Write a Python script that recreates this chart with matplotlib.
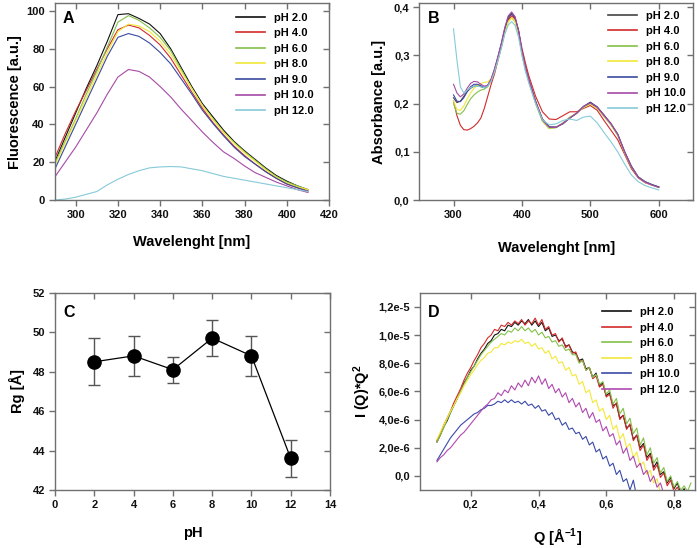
import numpy as np
import matplotlib
matplotlib.use("Agg")
import matplotlib.pyplot as plt
from matplotlib.ticker import FuncFormatter

# --- DATA ---
# Panel A: fluorescence emission
wl_a = [290, 295, 300, 305, 310, 315, 320, 325, 330, 335, 340, 345, 350,
        355, 360, 365, 370, 375, 380, 385, 390, 395, 400, 405, 410]
fl_ph2 = [20, 33, 46, 59, 71, 84, 98, 98.5, 96, 93, 88, 80, 70, 60, 51, 44, 37, 31, 26, 21.5, 17, 13, 10, 7.5, 5.5]
fl_ph4 = [22, 35, 47, 58, 69, 80, 90, 92.5, 91, 87, 82, 75, 66, 57, 48.5, 41, 34.5, 28.5, 23.5, 19, 15, 11.5, 8.5, 6.5, 5]
fl_ph6 = [19, 31, 43, 56, 68, 81, 94, 97.5, 95, 91, 86, 79, 69, 59, 50, 43, 36, 30.5, 25.5, 21, 16.5, 12.5, 9.5, 7.5, 5.5]
fl_ph8 = [18, 30, 42, 54, 66, 78, 89, 93, 92, 89, 84, 77, 68, 59, 50, 42.5, 36, 30, 25, 20.5, 16, 12, 9, 7, 5.5]
fl_ph9 = [16, 28, 40, 52, 64, 76, 86, 88, 86.5, 83, 78, 72, 64, 56, 47.5, 40.5, 34, 28, 23, 19, 15, 11.5, 8.5, 6.5, 4.5]
fl_ph10 = [12, 20, 28, 37, 46, 56, 65, 69, 68, 65, 60, 54.5, 48, 42, 36, 30.5, 25.5, 22, 18, 14.5, 12, 9.5, 7.5, 5.5, 4]
fl_ph12 = [0, 0.5, 1.5, 3, 4.5, 8, 11, 13.5, 15.5, 17, 17.5, 17.7, 17.5, 16.5, 15.5, 14, 12.5, 11.5, 10.5, 9.5, 8.5, 7.5, 6.5, 5.5, 4.5]

# Panel B: absorbance
wl_b = [300, 305, 310, 315, 320, 325, 330, 335, 340, 345, 350, 355, 360, 365,
        370, 375, 380, 385, 390, 395, 400, 405, 410, 420, 430, 440, 450, 460,
        470, 480, 490, 500, 510, 520, 530, 540, 550, 560, 570, 580, 590, 600]
ab_ph2 = [0.212, 0.202, 0.205, 0.215, 0.225, 0.232, 0.236, 0.237, 0.235, 0.233, 0.238, 0.250, 0.270, 0.295,
          0.322, 0.352, 0.376, 0.386, 0.377, 0.350, 0.308, 0.275, 0.250, 0.205, 0.168, 0.152, 0.151, 0.158,
          0.170, 0.180, 0.194, 0.203, 0.193, 0.176, 0.158, 0.136, 0.100, 0.070, 0.048, 0.038, 0.032, 0.027]
ab_ph4 = [0.205, 0.175, 0.155, 0.146, 0.145, 0.148, 0.153, 0.160, 0.170, 0.190, 0.215, 0.240, 0.262, 0.290,
          0.318, 0.350, 0.373, 0.382, 0.375, 0.352, 0.315, 0.285, 0.258, 0.215, 0.183, 0.168, 0.167, 0.175,
          0.183, 0.183, 0.190, 0.196, 0.186, 0.165, 0.145, 0.125, 0.095, 0.065, 0.046, 0.036, 0.031, 0.027]
ab_ph6 = [0.200, 0.180, 0.178, 0.185, 0.198, 0.210, 0.218, 0.224, 0.228, 0.230, 0.235, 0.248, 0.268, 0.292,
          0.318, 0.348, 0.370, 0.378, 0.370, 0.345, 0.303, 0.270, 0.245, 0.200, 0.163, 0.148, 0.150, 0.160,
          0.172, 0.180, 0.192, 0.199, 0.190, 0.173, 0.156, 0.134, 0.098, 0.068, 0.047, 0.037, 0.031, 0.026]
ab_ph8 = [0.205, 0.188, 0.186, 0.195, 0.210, 0.222, 0.232, 0.238, 0.242, 0.244, 0.245, 0.252, 0.270, 0.293,
          0.319, 0.348, 0.370, 0.378, 0.370, 0.345, 0.303, 0.271, 0.246, 0.201, 0.164, 0.149, 0.151, 0.160,
          0.171, 0.180, 0.192, 0.199, 0.190, 0.174, 0.157, 0.135, 0.099, 0.069, 0.048, 0.037, 0.031, 0.026]
ab_ph9 = [0.218, 0.205, 0.204, 0.212, 0.225, 0.235, 0.240, 0.240, 0.237, 0.233, 0.237, 0.250, 0.271, 0.297,
          0.325, 0.356, 0.380, 0.388, 0.379, 0.351, 0.308, 0.275, 0.249, 0.204, 0.166, 0.151, 0.151, 0.159,
          0.170, 0.180, 0.194, 0.202, 0.193, 0.176, 0.159, 0.137, 0.101, 0.070, 0.048, 0.038, 0.032, 0.027]
ab_ph10 = [0.240, 0.222, 0.214, 0.220, 0.232, 0.242, 0.246, 0.245, 0.240, 0.236, 0.238, 0.251, 0.272, 0.298,
           0.326, 0.358, 0.382, 0.390, 0.380, 0.352, 0.309, 0.276, 0.250, 0.204, 0.166, 0.151, 0.151, 0.159,
           0.170, 0.180, 0.194, 0.201, 0.192, 0.175, 0.158, 0.136, 0.100, 0.069, 0.047, 0.037, 0.031, 0.026]
ab_ph12 = [0.355, 0.290, 0.235, 0.222, 0.228, 0.233, 0.236, 0.236, 0.235, 0.233, 0.236, 0.247, 0.266, 0.290,
           0.315, 0.344, 0.363, 0.370, 0.362, 0.338, 0.300, 0.268, 0.243, 0.200, 0.166, 0.156, 0.158, 0.165,
           0.168, 0.165, 0.172, 0.174, 0.160, 0.140, 0.121, 0.100, 0.075, 0.052, 0.038, 0.030, 0.025, 0.021]

# Panel C: radius of gyration vs pH
ph_c = [2, 4, 6, 8, 10, 12]
rg_c = [48.5, 48.8, 48.1, 49.7, 48.8, 43.6]
rg_err = [1.2, 1.0, 0.65, 0.9, 1.0, 0.96]

# Panel D: Kratky plot, values in units of 1e-6
q_d = [0.10, 0.11, 0.12, 0.13, 0.14, 0.15, 0.16, 0.17, 0.18, 0.19,
       0.20, 0.21, 0.22, 0.23, 0.24, 0.25, 0.26, 0.27, 0.28, 0.29,
       0.30, 0.31, 0.32, 0.33, 0.34, 0.35, 0.36, 0.37, 0.38, 0.39,
       0.40, 0.41, 0.42, 0.43, 0.44, 0.45, 0.46, 0.47, 0.48, 0.49,
       0.50, 0.51, 0.52, 0.53, 0.54, 0.55, 0.56, 0.57, 0.58, 0.59,
       0.60, 0.61, 0.62, 0.63, 0.64, 0.65, 0.66, 0.67, 0.68, 0.69,
       0.70, 0.71, 0.72, 0.73, 0.74, 0.75, 0.76, 0.77, 0.78, 0.79,
       0.80, 0.81, 0.82, 0.83, 0.84, 0.85]
kr_ph2 = [2.4, 2.9, 3.5, 3.9, 4.5, 5.0, 5.5, 6.0, 6.6, 7.0,
          7.5, 7.8, 8.3, 8.7, 9.0, 9.4, 9.6, 10.0, 10.1, 10.4,
          10.3, 10.7, 10.6, 10.9, 10.7, 11.0, 10.8, 11.1, 10.7, 11.0,
          10.6, 10.9, 10.3, 10.5, 9.9, 10.0, 9.6, 9.7, 9.2, 9.3,
          8.8, 8.7, 8.2, 8.3, 7.6, 7.7, 7.0, 7.3, 6.4, 6.6,
          5.7, 5.9, 5.0, 5.1, 4.1, 4.3, 3.4, 3.6, 2.6, 2.9,
          2.0, 2.3, 1.3, 1.6, 0.6, 1.0, 0.1, 0.3, -0.5, -0.1,
          -0.9, -0.5, -1.2, -0.9, -1.5, -1.6]
kr_ph4 = [2.5, 3.0, 3.6, 4.1, 4.6, 5.2, 5.7, 6.2, 6.8, 7.3,
          7.7, 8.2, 8.6, 9.1, 9.4, 9.8, 10.0, 10.4, 10.3, 10.7,
          10.6, 10.9, 10.7, 11.0, 10.8, 11.1, 10.7, 11.0, 10.8, 11.2,
          10.7, 11.1, 10.4, 10.6, 10.0, 10.1, 9.5, 9.8, 9.1, 9.3,
          8.7, 8.8, 8.1, 8.2, 7.5, 7.7, 6.9, 7.1, 6.3, 6.5,
          5.6, 5.8, 4.8, 5.2, 4.0, 4.3, 3.3, 3.7, 2.5, 2.9,
          1.8, 2.2, 1.1, 1.5, 0.4, 0.8, -0.1, 0.2, -0.7, -0.3,
          -1.1, -0.8, -1.3, -1.5, -1.6, -1.7]
kr_ph6 = [2.4, 2.9, 3.4, 4.0, 4.5, 5.0, 5.5, 6.0, 6.5, 7.0,
          7.4, 7.8, 8.2, 8.6, 8.9, 9.2, 9.5, 9.7, 9.9, 10.1,
          10.0, 10.3, 10.2, 10.5, 10.3, 10.6, 10.3, 10.5, 10.2, 10.4,
          10.0, 10.2, 9.8, 9.9, 9.5, 9.6, 9.2, 9.3, 8.9, 9.0,
          8.6, 8.6, 8.0, 8.2, 7.5, 7.7, 7.0, 7.2, 6.5, 6.7,
          5.8, 6.1, 5.1, 5.5, 4.4, 4.8, 3.7, 4.1, 3.0, 3.4,
          2.2, 2.7, 1.5, 2.0, 0.9, 1.3, 0.2, 0.6, -0.4, 0.0,
          -0.8, -0.4, -1.0, -0.7, -1.1, -0.5]
kr_ph8 = [2.6, 3.1, 3.6, 4.1, 4.6, 5.0, 5.5, 5.9, 6.4, 6.8,
          7.2, 7.5, 7.9, 8.2, 8.4, 8.7, 8.8, 9.1, 9.1, 9.4,
          9.3, 9.5, 9.4, 9.6, 9.5, 9.7, 9.4, 9.5, 9.2, 9.4,
          9.0, 9.1, 8.7, 8.9, 8.3, 8.5, 8.0, 8.1, 7.5, 7.7,
          7.1, 7.2, 6.5, 6.7, 5.9, 6.1, 5.2, 5.4, 4.6, 4.8,
          4.0, 4.3, 3.3, 3.6, 2.6, 3.0, 2.0, 2.3, 1.3, 1.7,
          0.7, 1.0, 0.1, 0.4, -0.5, -0.2, -1.2, -1.5, -1.6, -1.7,
          -1.8, -1.8, -1.9, -1.9, -2.0, -2.0]
kr_ph10 = [1.1, 1.5, 1.9, 2.3, 2.7, 3.0, 3.3, 3.6, 3.8, 4.0,
           4.2, 4.4, 4.5, 4.7, 4.8, 5.0, 5.0, 5.1, 5.3, 5.2,
           5.4, 5.2, 5.4, 5.2, 5.3, 5.1, 5.3, 5.0, 5.1, 4.8,
           5.0, 4.6, 4.7, 4.3, 4.5, 4.0, 4.1, 3.6, 3.8, 3.3,
           3.4, 3.0, 3.1, 2.6, 2.8, 2.2, 2.4, 1.7, 1.9, 1.2,
           1.4, 0.7, 0.9, 0.1, 0.4, -0.4, -0.2, -1.0, -0.3, -1.5,
           -1.6, -1.7, -1.8, -1.9, -2.0, -2.0, -2.0, -2.0, -2.0, -2.0,
           -2.0, -2.0, -2.0, -2.0, -2.0, -2.0]
kr_ph12 = [1.0, 1.3, 1.5, 1.8, 2.0, 2.3, 2.6, 2.9, 3.1, 3.4,
           3.7, 4.0, 4.3, 4.6, 4.9, 5.1, 5.4, 5.5, 5.9, 5.7,
           6.1, 5.9, 6.4, 6.1, 6.6, 6.3, 6.8, 6.4, 7.0, 6.6,
           7.1, 6.5, 6.9, 6.2, 6.5, 5.9, 6.2, 5.6, 5.9, 5.2,
           5.5, 4.9, 5.2, 4.5, 4.8, 4.1, 4.5, 3.8, 4.0, 3.2,
           3.5, 2.8, 3.0, 2.2, 2.5, 1.6, 2.0, 1.1, 1.4, 0.6,
           0.9, 0.1, 0.4, -0.4, 0.0, -0.8, -0.5, -1.3, -1.6, -1.8,
           -1.9, -2.0, -2.0, -2.0, -2.0, -2.0]

labels_7 = ["pH 2.0", "pH 4.0", "pH 6.0", "pH 8.0", "pH 9.0", "pH 10.0", "pH 12.0"]
labels_6 = ["pH 2.0", "pH 4.0", "pH 6.0", "pH 8.0", "pH 10.0", "pH 12.0"]
colors_7 = ["#111111", "#d22a2a", "#84c04a", "#f2e83a", "#3a4aa0", "#a64aa6", "#86cad8"]
colors_6 = ["#111111", "#d22a2a", "#84c04a", "#f2e83a", "#3a4aa8", "#b048b0"]

# --- STYLE ---
plt.rcParams["font.family"] = ["Liberation Sans", "DejaVu Sans"]
plt.rcParams["font.weight"] = "bold"
plt.rcParams["axes.labelweight"] = "bold"
plt.rcParams["mathtext.default"] = "regular"

SPINE = "#707070"
TICKFS = 8
LABELFS = 10.5


def comma(fmt):
    return FuncFormatter(lambda v, p: (fmt % v).replace(".", ","))


def style_axes(ax, xt, yt):
    for s in ax.spines.values():
        s.set_color(SPINE)
        s.set_linewidth(1.0)
    ax.set_xticks(xt)
    ax.set_yticks(yt)
    ax.tick_params(direction="out", length=4, width=1.0, color=SPINE,
                   labelsize=TICKFS, labelcolor="#111111", pad=3)
    top = ax.secondary_xaxis("top")
    top.set_xticks(xt)
    top.tick_params(direction="in", length=4, width=1.0, color=SPINE, labeltop=False)
    top.spines["top"].set_visible(False)
    right = ax.secondary_yaxis("right")
    right.set_yticks(yt)
    right.tick_params(direction="in", length=4, width=1.0, color=SPINE, labelright=False)
    right.spines["right"].set_visible(False)


def panel_legend(ax, anchor):
    leg = ax.legend(loc="upper right", bbox_to_anchor=anchor, frameon=False, fontsize=8,
                    handlelength=2.6, labelspacing=0.5, handletextpad=0.8, borderaxespad=0)
    for h in leg.get_lines():
        h.set_linewidth(1.2)


fig = plt.figure(figsize=(6.97, 5.48), dpi=100)
axA = fig.add_axes([0.0783, 0.635, 0.3937, 0.359])
axB = fig.add_axes([0.6016, 0.635, 0.3926, 0.359])
axC = fig.add_axes([0.0790, 0.1058, 0.3945, 0.3600])
axD = fig.add_axes([0.6026, 0.1058, 0.3945, 0.3600])

# --- A ---
for ys, c, lab in zip([fl_ph2, fl_ph4, fl_ph6, fl_ph8, fl_ph9, fl_ph10, fl_ph12], colors_7, labels_7):
    axA.plot(wl_a, ys, color=c, lw=0.8, label=lab)
axA.set_xlim(290, 420)
axA.set_ylim(0, 104)
style_axes(axA, range(300, 421, 20), range(0, 101, 20))
axA.set_xlabel("Wavelenght [nm]", fontsize=LABELFS, labelpad=11)
axA.set_ylabel("Fluorescence [a.u.]", fontsize=LABELFS, labelpad=3)
axA.text(0.03, 0.96, "A", transform=axA.transAxes, fontsize=11.5, va="top", ha="left")
panel_legend(axA, (0.96, 0.975))

# --- B ---
for ys, c, lab in zip([ab_ph2, ab_ph4, ab_ph6, ab_ph8, ab_ph9, ab_ph10, ab_ph12],
                      ["#444444"] + colors_7[1:], labels_7):
    axB.plot(wl_b, ys, color=c, lw=0.8, label=lab)
axB.set_xlim(250, 650)
axB.set_ylim(0, 0.408)
style_axes(axB, [300, 400, 500, 600], [0, 0.1, 0.2, 0.3, 0.4])
axB.yaxis.set_major_formatter(comma("%.1f"))
axB.set_xlabel("Wavelenght [nm]", fontsize=LABELFS, labelpad=15)
axB.set_ylabel("Absorbance [a.u.]", fontsize=LABELFS, labelpad=6)
axB.text(0.03, 0.96, "B", transform=axB.transAxes, fontsize=11.5, va="top", ha="left")
panel_legend(axB, (0.99, 0.985))

# --- C ---
axC.errorbar(ph_c, rg_c, yerr=rg_err, fmt="-o", color="black", lw=0.9, ms=9.5,
             ecolor="#555555", elinewidth=1.0, capsize=4, capthick=1.0)
axC.set_xlim(0, 14)
axC.set_ylim(42, 52)
style_axes(axC, range(0, 15, 2), range(42, 53, 2))
axC.set_xlabel("pH", fontsize=LABELFS, labelpad=12)
axC.set_ylabel("Rg [Å]", fontsize=LABELFS, labelpad=6)
axC.text(0.03, 0.94, "C", transform=axC.transAxes, fontsize=11.5, va="top", ha="left")

# --- D ---
for ys, c, lab in zip([kr_ph2, kr_ph4, kr_ph6, kr_ph8, kr_ph10, kr_ph12], colors_6, labels_6):
    axD.plot(q_d, np.array(ys) * 1e-6, color=c, lw=0.8, label=lab)
axD.set_xlim(0.05, 0.862)
axD.set_ylim(-1e-6, 1.3e-5)
style_axes(axD, [0.2, 0.4, 0.6, 0.8], [0, 2e-6, 4e-6, 6e-6, 8e-6, 1e-5, 1.2e-5])
axD.xaxis.set_major_formatter(comma("%.1f"))
d_ylabels = ["0,0", "2,0e-6", "4,0e-6", "6,0e-6", "8,0e-6", "1,0e-5", "1,2e-5"]
axD.set_yticklabels(d_ylabels)
axD.set_xlabel("Q [Å$^{-1}$]", fontsize=LABELFS, labelpad=12)
axD.set_ylabel("I (Q)*Q$^2$", fontsize=LABELFS, labelpad=4)
axD.text(0.03, 0.94, "D", transform=axD.transAxes, fontsize=11.5, va="top", ha="left")
panel_legend(axD, (0.96, 0.95))

fig.savefig("out.png", dpi=100)
